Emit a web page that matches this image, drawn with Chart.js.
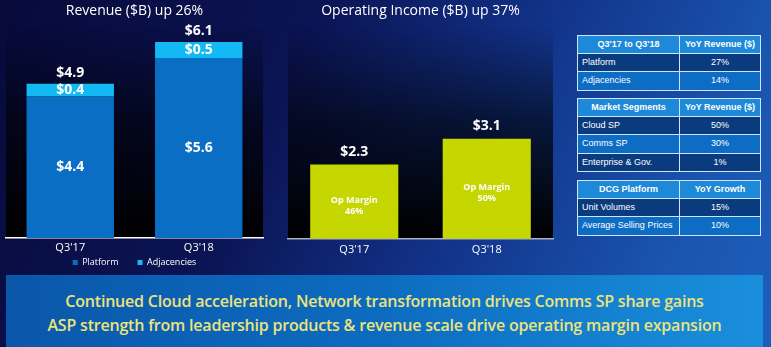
<!DOCTYPE html>
<html>
<head>
<meta charset="utf-8">
<script src="https://cdn.jsdelivr.net/npm/chart.js@4.4.1/dist/chart.umd.min.js"></script>
<style>
  html,body{margin:0;padding:0;}
  body{width:771px;height:347px;overflow:hidden;position:relative;
    background:linear-gradient(115deg,#070a3a 0%,#0b1454 35%,#12338a 60%,#1a55b0 85%,#1d5fbc 100%);
    font-family:"Open Sans","Liberation Sans",sans-serif;}
  #c1{position:absolute;left:0;top:0;}
  #c2{position:absolute;left:280px;top:0;}
  .tbl{position:absolute;left:577px;width:184px;border-collapse:collapse;
    font-family:"Liberation Sans",Arial,sans-serif;font-size:9px;color:#fff;}
  .tbl td{border:1.5px solid #cfe6fa;padding:0 4px;height:17.5px;line-height:17.5px;white-space:nowrap;}
  .tbl td.h{background:#1d89d8;font-weight:bold;text-align:center;height:16.5px;line-height:16.5px;}
  .tbl td.v{text-align:center;}
  .tbl tr.d td{background:#0a3b7e;}
  .tbl tr.m td{background:#0d6cc4;}
  .tbl td.c1{width:93px;}
  #band{position:absolute;left:6px;top:275px;width:757px;height:72px;
    background:linear-gradient(90deg,#0a57aa 0%,#0d6cc0 50%,#1a8fdc 100%);}
  #band div{position:absolute;left:0;width:757px;text-align:center;color:#ebe37c;
    font-family:"Open Sans",sans-serif;font-weight:600;font-size:16px;letter-spacing:-0.2px;}
</style>
</head>
<body>
<canvas id="c1" width="270" height="277"></canvas>
<canvas id="c2" width="285" height="275"></canvas>
<div id="tables"></div>
<div id="band"><div id="l1" style="top:15px"></div><div id="l2" style="top:39px"></div></div>
<script>
// ---- data ----
const categories = ["Q3'17", "Q3'18"];
const platform = [4.4, 5.6];
const adjacencies = [0.4, 0.5];
const revenueTotals = [4.9, 6.1];
const opIncome = [2.3, 3.1];
const opMargin = ["46%", "50%"];
const revenueTitle = "Revenue ($B) up 26%";
const opTitle = "Operating Income ($B) up 37%";

const t1Head = ["Q3'17 to Q3'18", "YoY Revenue ($)"];
const t1Labels = ["Platform", "Adjacencies"];
const t1Values = ["27%", "14%"];
const t2Head = ["Market Segments", "YoY Revenue ($)"];
const t2Labels = ["Cloud SP", "Comms SP", "Enterprise & Gov."];
const t2Values = ["50%", "30%", "1%"];
const t3Head = ["DCG Platform", "YoY Growth"];
const t3Labels = ["Unit Volumes", "Average Selling Prices"];
const t3Values = ["15%", "10%"];
const bandLines = [
  "Continued Cloud acceleration, Network transformation drives Comms SP share gains",
  "ASP strength from leadership products & revenue scale drive operating margin expansion"
];

// ---- tables & band ----
function makeTable(head, labels, values, top) {
  let h = '<table class="tbl" style="top:' + top + 'px"><tr><td class="h c1">' + head[0] + '</td><td class="h">' + head[1] + '</td></tr>';
  labels.forEach((l, i) => {
    h += '<tr class="' + (i % 2 === 0 ? 'd' : 'm') + '"><td class="c1">' + l.replace(/&/g, '&amp;') + '</td><td class="v">' + values[i] + '</td></tr>';
  });
  return h + '</table>';
}
document.getElementById('tables').innerHTML =
  makeTable(t1Head, t1Labels, t1Values, 35) +
  makeTable(t2Head, t2Labels, t2Values, 98) +
  makeTable(t3Head, t3Labels, t3Values, 180);
document.getElementById('l1').textContent = bandLines[0];
document.getElementById('l2').textContent = bandLines[1];

// ---- plugins ----
const areaBg = {
  id: 'areaBg',
  beforeDraw(chart) {
    const {ctx, chartArea: a} = chart;
    const g = ctx.createLinearGradient(0, a.top, 0, a.bottom);
    g.addColorStop(0, 'rgba(0,0,0,0)');
    g.addColorStop(0.45, 'rgba(0,0,0,0.6)');
    g.addColorStop(1, 'rgba(0,0,0,1)');
    ctx.save();
    ctx.fillStyle = g;
    ctx.fillRect(a.left, a.top, a.right - a.left, a.bottom - a.top);
    ctx.restore();
  }
};

const revLabels = {
  id: 'revLabels',
  afterDatasetsDraw(chart) {
    const ctx = chart.ctx;
    const m0 = chart.getDatasetMeta(0), m1 = chart.getDatasetMeta(1);
    ctx.save();
    ctx.fillStyle = '#fff';
    ctx.textAlign = 'center';
    ctx.textBaseline = 'middle';
    ctx.font = 'bold 14px "Open Sans", sans-serif';
    m0.data.forEach((b, i) => {
      ctx.fillText('$' + platform[i].toFixed(1), b.x, (b.y + b.base) / 2);
    });
    m1.data.forEach((b, i) => {
      ctx.fillText('$' + adjacencies[i].toFixed(1), b.x, (b.y + b.base) / 2);
      ctx.fillText('$' + revenueTotals[i].toFixed(1), b.x, b.y - 11);
    });
    ctx.restore();
  }
};

const opLabels = {
  id: 'opLabels',
  afterDatasetsDraw(chart) {
    const ctx = chart.ctx;
    const m0 = chart.getDatasetMeta(0);
    ctx.save();
    ctx.fillStyle = '#fff';
    ctx.textAlign = 'center';
    ctx.textBaseline = 'middle';
    m0.data.forEach((b, i) => {
      ctx.font = 'bold 14px "Open Sans", sans-serif';
      ctx.fillText('$' + opIncome[i].toFixed(1), b.x, b.y - 13);
      ctx.font = 'bold 9px "Open Sans", sans-serif';
      const mid = (b.y + b.base) / 2 + 4;
      ctx.fillText('Op Margin', b.x, mid - 5);
      ctx.fillText(opMargin[i], b.x, mid + 6);
    });
    ctx.restore();
  }
};

Chart.defaults.font.family = '"Open Sans", sans-serif';
Chart.defaults.color = '#fff';

new Chart(document.getElementById('c1'), {
  type: 'bar',
  data: {
    labels: categories,
    datasets: [
      {label: 'Platform', data: platform, backgroundColor: '#0a6fc4', stack: 's'},
      {label: 'Adjacencies', data: adjacencies, backgroundColor: '#12b9f2', stack: 's'}
    ]
  },
  options: {
    responsive: false, animation: false,
    layout: {padding: {left: 6, right: 7, top: 0, bottom: 0}},
    datasets: {bar: {categoryPercentage: 1, barPercentage: 0.68}},
    scales: {
      x: {stacked: true, grid: {display: false, drawTicks: false},
          border: {display: true, color: '#ffffff', width: 1.5},
          ticks: {color: '#fff', font: {size: 11, lineHeight: 1}, padding: 4}},
      y: {stacked: true, display: false, min: 0, max: 6.6}
    },
    plugins: {
      title: {display: true, text: revenueTitle, color: '#fff', font: {size: 14, weight: 'normal'}, padding: {top: 3, bottom: 6}},
      legend: {position: 'bottom', labels: {color: '#fff', boxWidth: 5, boxHeight: 5, font: {size: 9}, padding: 1,
        generateLabels(chart) {
          const items = Chart.defaults.plugins.legend.labels.generateLabels(chart);
          items.forEach((it, i) => { it.lineWidth = 0; if (i < items.length - 1) it.text = it.text + '\u2003\u2003'; });
          return items;
        }}},
      tooltip: {enabled: false}
    }
  },
  plugins: [areaBg, revLabels]
});

new Chart(document.getElementById('c2'), {
  type: 'bar',
  data: {
    labels: categories,
    datasets: [
      {label: 'Operating Income', data: opIncome, backgroundColor: '#c5d600'}
    ]
  },
  options: {
    responsive: false, animation: false,
    layout: {padding: {left: 8, right: 12, top: 0, bottom: 15}},
    datasets: {bar: {categoryPercentage: 1, barPercentage: 0.665}},
    scales: {
      x: {grid: {display: false, drawTicks: false},
          border: {display: true, color: '#a9b1c4', width: 1.5},
          ticks: {color: '#fff', font: {size: 11}, padding: 4}},
      y: {display: false, min: 0, max: 6.6}
    },
    plugins: {
      title: {display: true, text: opTitle, color: '#fff', font: {size: 14, weight: 'normal'}, padding: {top: 3, bottom: 6}},
      legend: {display: false},
      tooltip: {enabled: false}
    }
  },
  plugins: [areaBg, opLabels]
});
</script>
</body>
</html>
